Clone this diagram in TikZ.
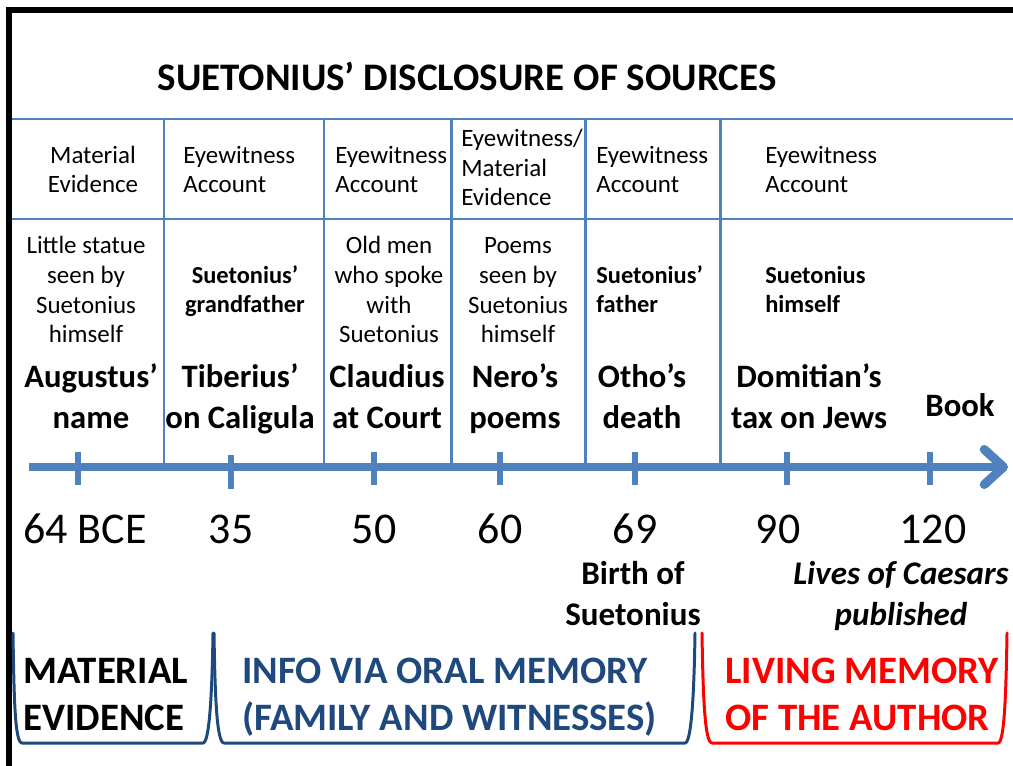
\documentclass[tikz,border=0pt]{standalone}
\usepackage{fontspec}
\setmainfont{Carlito}
\usetikzlibrary{arrows.meta}
\definecolor{lineblue}{HTML}{4F81BD}
\definecolor{darkblue}{HTML}{1F497D}
\definecolor{livered}{HTML}{FF0000}
\tikzset{
  title/.style={font=\bfseries\fontsize{22.2}{26}\selectfont, inner sep=0pt, anchor=base},
  kind/.style={font=\fontsize{14.2}{17}\selectfont, inner sep=0pt, align=left, anchor=base west},
  kindc/.style={kind, align=center, anchor=base},
  who/.style={font=\fontsize{14.2}{17}\selectfont, inner sep=0pt, align=center, anchor=base},
  whob/.style={font=\bfseries\fontsize{13.9}{17}\selectfont, inner sep=0pt, align=left, anchor=base west},
  event/.style={font=\bfseries\fontsize{18.6}{22.8}\selectfont, inner sep=0pt, align=center, anchor=base},
  year/.style={font=\fontsize{25}{30}\selectfont, inner sep=0pt, anchor=base},
  note/.style={font=\bfseries\fontsize{18.8}{22.8}\selectfont, inner sep=0pt, align=center, anchor=base},
  era/.style={font=\bfseries\fontsize{22.1}{26.7}\selectfont, inner sep=0pt, align=left, anchor=base west},
  grid/.style={lineblue, line width=1.7pt},
  tick/.style={lineblue, line width=3.4pt},
  brace/.style={line width=1.7pt, line join=round, line cap=round},
}
\begin{document}
\begin{tikzpicture}[x=0.02cm, y=-0.02cm]
\useasboundingbox (0,0) rectangle (1013,766);

% frame
\draw[line width=3.2pt] (9,766) -- (9,10) -- (1013,10);

\node[title] (title) at (467,91) {SUETONIUS' DISCLOSURE OF SOURCES};

% table
\draw[grid] (12,119) -- (1013,119);
\draw[grid] (12,219) -- (1013,219);
\foreach \x in {164,324,451,585,720}
  \draw[grid] (\x,119) -- (\x,463);

% kind of source (base = last line)
\node[kindc] (k1) at (93,193) {Material\\Evidence};
\node[kind] (k2) at (183,193) {Eyewitness\\Account};
\node[kind] (k3) at (335,193) {Eyewitness\\Account};
\node[kind] (k4) at (461,206) {Eyewitness/\\Material\\Evidence};
\node[kind] (k5) at (596,193) {Eyewitness\\Account};
\node[kind] (k6) at (765,193) {Eyewitness\\Account};

% who
\node[who] (w1) at (86,343) {Little statue\\seen by\\Suetonius\\himself};
\node[whob, align=center, anchor=base] (w2) at (245,313) {Suetonius'\\grandfather};
\node[who] (w3) at (389,343) {Old men\\who spoke\\with\\Suetonius};
\node[who] (w4) at (518,343) {Poems\\seen by\\Suetonius\\himself};
\node[whob] (w5) at (596,313) {Suetonius'\\father};
\node[whob] (w6) at (765,313) {Suetonius\\himself};

% events
\node[event] (e1) at (91,428) {Augustus'\\name};
\node[event] (e2) at (240,428) {Tiberius'\\on Caligula};
\node[event] (e3) at (387,428) {Claudius\\at Court};
\node[event] (e4) at (515,428) {Nero's\\poems};
\node[event] (e5) at (642,428) {Otho's\\death};
\node[event] (e6) at (809,428) {Domitian's\\tax on Jews};
\node[event] (e7) at (960,417) {Book};

% time axis
\coordinate (axstart) at (29,467);
\coordinate (axend) at (1008,467);
\draw[lineblue, line width=5.1pt, -{Straight Barb[length=11pt, width=20pt, round]}] (axstart) -- (axend);
\foreach \x in {78,374,500,635,787,930}
  \draw[tick] (\x,452) -- (\x,485);
\draw[tick] (231,455) -- (231,489);

\foreach \x/\yr in {85/64 BCE,231/35,374/50,500/60,635/69,778/90,933/120}
  \node[year] (yr\x) at (\x,543) {\yr};

\node[note] (birth) at (633,625) {Birth of\\Suetonius};
\node[note, font=\bfseries\itshape\fontsize{18.8}{22.8}\selectfont] (lives) at (901,625) {Lives of Caesars\\published};

% eras
\draw[brace, darkblue] (13,633) .. controls (14,700) and (15,743) .. (22,743) -- (203,743) .. controls (209,743) and (212,700) .. (213,633);
\draw[brace, darkblue] (214,633) .. controls (215,700) and (217,743) .. (224,743) -- (685,743) .. controls (691,743) and (694,700) .. (695,633);
\draw[brace, livered] (702,633) .. controls (703,700) and (705,743) .. (712,743) -- (998,743) .. controls (1004,743) and (1006,700) .. (1007,633);

\node[era] (era1) at (23,730) {MATERIAL\\EVIDENCE};
\node[era, darkblue] (era2) at (242,730) {INFO VIA ORAL MEMORY\\(FAMILY AND WITNESSES)};
\node[era, livered] (era3) at (725,730) {LIVING MEMORY\\OF THE AUTHOR};
\end{tikzpicture}
\end{document}
